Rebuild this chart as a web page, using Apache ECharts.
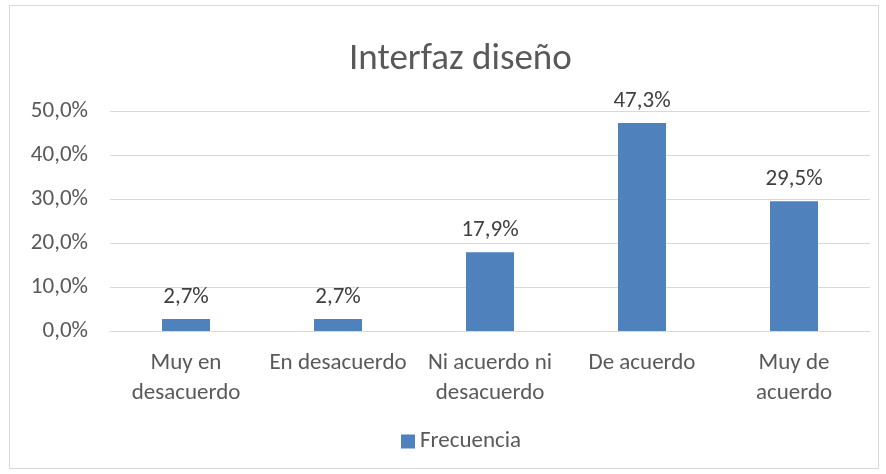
<!DOCTYPE html>
<html>
<head>
<meta charset="utf-8">
<script src="https://cdn.jsdelivr.net/npm/echarts@6/dist/echarts.min.js"></script>
<style>
  html, body { margin: 0; padding: 0; background: #fff; }
  .frame { position: absolute; left: 9px; top: 5px; width: 870px; height: 464px; border: 1px solid #d9d9d9; box-sizing: border-box; }
  .chart { position: absolute; left: 0; top: 0; width: 886px; height: 474px; }
</style>
</head>
<body>
<div class="frame"></div>
<div class="chart"></div>
<script>
// categorias y valores (%)
var categories = ['Muy en\ndesacuerdo', 'En desacuerdo', 'Ni acuerdo ni\ndesacuerdo', 'De acuerdo', 'Muy de\nacuerdo']
var frecuencia = [2.7, 2.7, 17.9, 47.3, 29.5]
var seriesName = 'Frecuencia'

var fontFam = 'Carlito, "Open Sans", "Liberation Sans", sans-serif'
var chart = echarts.init(document.querySelector('.chart'))

function pct (v) {
  return v.toFixed(1).replace('.', ',') + '%'
}

var option = {
  animation: false,
  title: {
    text: 'Interfaz diseño',
    left: 344,
    top: 36,
    textStyle: { fontFamily: fontFam, fontSize: 37, fontWeight: 'normal', color: '#595959' }
  },
  legend: {
    data: [seriesName],
    bottom: 16,
    left: 396,
    itemWidth: 14,
    itemHeight: 14,
    itemGap: 6,
    icon: 'rect',
    textStyle: { fontFamily: fontFam, fontSize: 23, color: '#595959' }
  },
  grid: {
    left: 110,
    right: 16,
    top: 111,
    bottom: 143
  },
  xAxis: {
    type: 'category',
    data: categories,
    axisLine: { lineStyle: { color: '#d9d9d9' } },
    axisTick: { show: false },
    axisLabel: {
      interval: 0,
      margin: 17,
      fontFamily: fontFam,
      fontSize: 23,
      lineHeight: 30,
      color: '#595959'
    }
  },
  yAxis: {
    type: 'value',
    min: 0,
    max: 50,
    interval: 10,
    axisLine: { show: false },
    axisTick: { show: false },
    splitLine: { lineStyle: { color: '#d9d9d9' } },
    axisLabel: {
      margin: 22,
      fontFamily: fontFam,
      fontSize: 23,
      color: '#595959',
      formatter: function (v) { return pct(v) }
    }
  },
  series: [{
    name: seriesName,
    type: 'bar',
    data: frecuencia,
    barWidth: 48,
    itemStyle: { color: '#4f81bd' },
    label: {
      show: true,
      position: 'top',
      distance: 10,
      fontFamily: fontFam,
      fontSize: 23,
      color: '#404040',
      formatter: function (p) { return pct(p.value) }
    }
  }]
}

chart.setOption(option)
</script>
</body>
</html>
